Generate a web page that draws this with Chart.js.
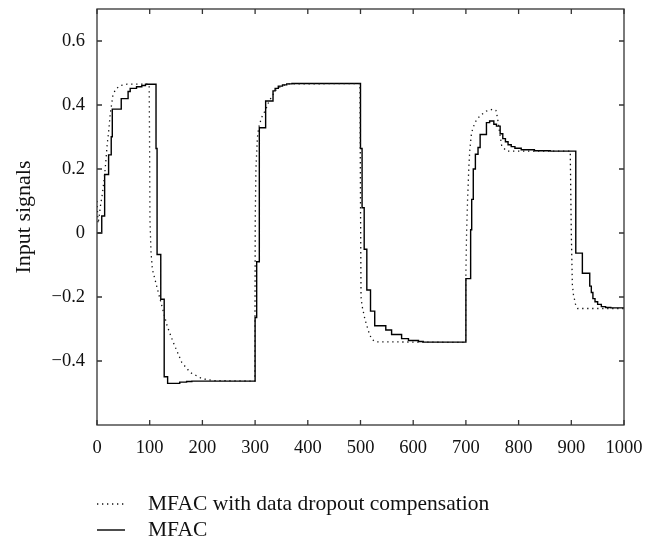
<!DOCTYPE html>
<html>
<head>
<meta charset="utf-8">
<script src="https://cdn.jsdelivr.net/npm/chart.js@4/dist/chart.umd.min.js"></script>
<style>
  html, body { margin: 0; padding: 0; background: #fff; }
  #wrap { width: 645px; height: 543px; }
</style>
</head>
<body>
<div id="wrap"><canvas id="chart" width="645" height="543"></canvas></div>
<script>
// axis ticks
const xTicks = [0, 100, 200, 300, 400, 500, 600, 700, 800, 900, 1000];
const yTicks = [-0.4, -0.2, 0, 0.2, 0.4, 0.6];
const yTickLabels = ['\u22120.4', '\u22120.2', '0', '0.2', '0.4', '0.6'];

// MFAC with data dropout compensation (dotted)
const compX = [0, 2, 4, 7, 10, 13, 15.5, 17.5, 19.5, 22, 25, 28, 30, 35, 45, 57, 99, 99.7, 100.5, 102.5,
  105, 110, 117, 125, 133, 145, 161, 177, 199, 221, 299.5, 300.3, 301.5, 303, 304.5, 307, 312, 320, 326,
  333, 340, 350, 365, 499, 500, 501, 503, 508.5, 515, 521, 529, 699.5, 700, 701.3, 703.2, 705.6, 707.5,
  710.8, 717, 726.5, 739, 751.7, 757, 760, 764, 768, 777, 898, 900, 902, 904, 906, 908, 912, 1000];
const compY = [0.1, 0.03, 0.05, 0.09, 0.12, 0.16, 0.2, 0.24, 0.28, 0.314, 0.371, 0.405, 0.428, 0.449, 0.461,
  0.465, 0.465, 0.3, 0.04, -0.06, -0.113, -0.145, -0.19, -0.24, -0.29, -0.343, -0.405, -0.436, -0.455,
  -0.461, -0.463, 0.05, 0.2, 0.25, 0.3, 0.33, 0.36, 0.385, 0.41, 0.43, 0.448, 0.46, 0.466, 0.467, 0.1,
  -0.2, -0.228, -0.27, -0.306, -0.332, -0.34, -0.342, -0.124, 0.0, 0.105, 0.209, 0.262, 0.314, 0.345,
  0.366, 0.381, 0.387, 0.383, 0.36, 0.314, 0.272, 0.256, 0.256, 0.0, -0.16, -0.192, -0.207, -0.223,
  -0.236, -0.236];

// MFAC (solid, sample-and-hold steps: value starts at x)
const mfacX = [0, 9, 14.5, 22, 27, 29, 46, 59, 63, 75, 85, 92, 112, 114, 121, 127.5, 134, 157, 170, 180,
  300, 303, 308, 320, 334, 338, 344, 352, 360, 370, 500, 503, 507, 512, 519, 527, 548, 559, 578, 591,
  610, 619, 700, 709, 711, 714, 718, 723, 727, 739, 745, 753, 758, 765, 770, 775, 780, 786, 793, 805,
  830, 860, 908.5, 921, 935, 938, 941, 945, 950, 957, 965, 975, 1000];
const mfacY = [0, 0.053, 0.183, 0.244, 0.301, 0.387, 0.42, 0.442, 0.452, 0.457, 0.461, 0.465, 0.264, -0.067,
  -0.207, -0.449, -0.47, -0.466, -0.464, -0.463, -0.264, -0.09, 0.329, 0.4125, 0.444, 0.452, 0.459,
  0.463, 0.466, 0.467, 0.264, 0.079, -0.051, -0.178, -0.244, -0.29, -0.303, -0.317, -0.33, -0.336,
  -0.339, -0.341, -0.1425, 0.01, 0.105, 0.2, 0.246, 0.267, 0.308, 0.345, 0.35, 0.34, 0.334, 0.31,
  0.295, 0.285, 0.276, 0.27, 0.265, 0.26, 0.257, 0.256, -0.063, -0.126, -0.166, -0.186, -0.205, -0.215,
  -0.223, -0.23, -0.233, -0.234, -0.234];

const SERIF = '"Liberation Serif", "DejaVu Serif", serif';
const toPoints = (xs, ys) => xs.map((x, i) => ({ x, y: ys[i] }));

// box frame + inward ticks on all four sides (MATLAB look)
const frameTicksPlugin = {
  id: 'frameTicks',
  afterDraw: (chart) => {
    const { ctx, chartArea: a, scales } = chart;
    const len = 5;
    ctx.save();
    ctx.strokeStyle = '#333';
    ctx.lineWidth = 1.3;
    ctx.strokeRect(a.left, a.top, a.right - a.left, a.bottom - a.top);
    ctx.beginPath();
    xTicks.forEach((v) => {
      const px = scales.x.getPixelForValue(v);
      ctx.moveTo(px, a.bottom); ctx.lineTo(px, a.bottom - len);
      ctx.moveTo(px, a.top); ctx.lineTo(px, a.top + len);
    });
    yTicks.forEach((v) => {
      const py = scales.y.getPixelForValue(v);
      ctx.moveTo(a.left, py); ctx.lineTo(a.left + len, py);
      ctx.moveTo(a.right, py); ctx.lineTo(a.right - len, py);
    });
    ctx.stroke();
    ctx.restore();
  },
};

// stacked legend under the axis: short line sample + label
const stackedLegendPlugin = {
  id: 'stackedLegend',
  afterDraw: (chart) => {
    const { ctx, chartArea: a } = chart;
    const rows = [504, 530];
    ctx.save();
    ctx.font = `21.5px ${SERIF}`;
    ctx.textBaseline = 'middle';
    chart.data.datasets.forEach((ds, i) => {
      const y = rows[i];
      ctx.beginPath();
      ctx.setLineDash(ds.borderDash || []);
      ctx.strokeStyle = ds.borderColor;
      ctx.lineWidth = ds.borderWidth;
      ctx.moveTo(a.left, y);
      ctx.lineTo(a.left + 28, y);
      ctx.stroke();
      ctx.setLineDash([]);
      ctx.fillStyle = '#111';
      ctx.fillText(ds.label, a.left + 51, y);
    });
    ctx.restore();
  },
};

new Chart(document.getElementById('chart').getContext('2d'), {
  type: 'line',
  data: {
    datasets: [
      {
        label: 'MFAC with data dropout compensation',
        data: toPoints(compX, compY),
        borderColor: '#111',
        borderWidth: 1.3,
        borderDash: [1.3, 3.7],
        pointRadius: 0,
        tension: 0,
      },
      {
        label: 'MFAC',
        data: toPoints(mfacX, mfacY),
        borderColor: '#000',
        borderWidth: 1.4,
        stepped: true,
        pointRadius: 0,
      },
    ],
  },
  plugins: [frameTicksPlugin, stackedLegendPlugin],
  options: {
    responsive: false,
    animation: false,
    devicePixelRatio: 1,
    layout: { padding: { left: 0, right: 21, top: 9, bottom: 78 } },
    plugins: { legend: { display: false }, tooltip: { enabled: false } },
    scales: {
      x: {
        type: 'linear',
        min: 0,
        max: 1000,
        grid: { display: false, drawTicks: false },
        border: { display: false },
        afterBuildTicks: (s) => { s.ticks = xTicks.map((v) => ({ value: v })); },
        afterFit: (s) => { s.height = 40; s.paddingLeft = 0; s.paddingRight = 0; },
        ticks: {
          color: '#111',
          font: { family: SERIF, size: 18.5 },
          padding: 12,
          maxRotation: 0,
          callback: (v) => String(v),
        },
      },
      y: {
        type: 'linear',
        min: -0.6,
        max: 0.7,
        grid: { display: false, drawTicks: false },
        border: { display: false },
        afterBuildTicks: (s) => { s.ticks = yTicks.map((v) => ({ value: v })); },
        afterFit: (s) => { s.width = 97; s.paddingTop = 0; s.paddingBottom = 0; },
        ticks: {
          color: '#111',
          font: { family: SERIF, size: 18.5 },
          padding: 12,
          callback: (v) => yTickLabels[yTicks.findIndex((t) => Math.abs(t - v) < 1e-9)],
        },
        title: {
          display: true,
          text: 'Input signals',
          color: '#111',
          font: { family: SERIF, size: 22 },
          padding: { top: 11, bottom: 0 },
        },
      },
    },
  },
});
</script>
</body>
</html>
